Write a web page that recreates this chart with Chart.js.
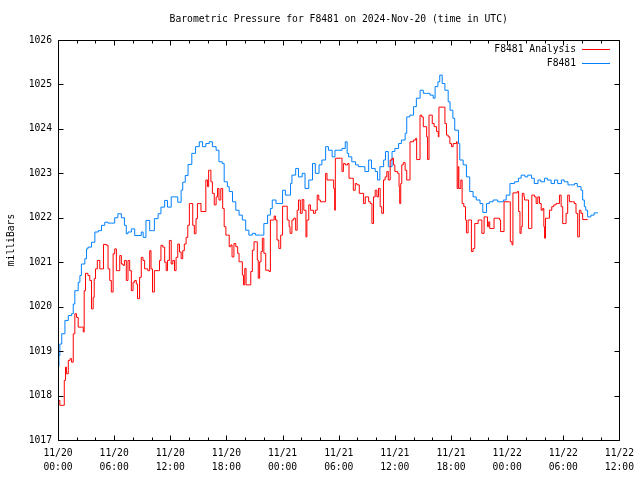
<!DOCTYPE html>
<html>
<head>
<meta charset="utf-8">
<script src="https://cdn.jsdelivr.net/npm/chart.js@4"></script>
<style>
  html, body { margin: 0; padding: 0; background: #fff; }
  #wrap { width: 640px; height: 480px; }
</style>
</head>
<body>
<div id="wrap"><canvas id="pressureChart" width="640" height="480"></canvas></div>
<script>
// hours since 11/20 00:00 UTC, pressure in mb
var analysisHours = [
    0.0, 0.2, 0.57, 0.67, 0.8, 0.9, 1.1, 1.28, 1.45, 1.63, 1.8, 1.98, 2.16, 2.5, 2.7, 2.8, 2.94, 3.2, 3.4, 3.58,
    3.76, 3.87, 4.01, 4.2, 4.47, 4.72, 4.86, 5.2, 5.35, 5.53, 5.7, 5.89, 6.06, 6.24, 6.4, 6.6, 6.77, 6.95, 7.1, 7.3,
    7.48, 7.66, 7.84, 8.02, 8.2, 8.37, 8.5, 8.72, 8.9, 9.08, 9.26, 9.6, 9.8, 9.94, 10.1, 10.3, 10.7, 10.85, 11.0, 11.2,
    11.4, 11.56, 11.7, 11.9, 12.1, 12.27, 12.45, 12.62, 12.8, 12.98, 13.16, 13.33, 13.5, 13.69, 13.87, 14.04, 14.2, 14.4, 14.57, 14.75,
    14.9, 15.1, 15.28, 15.6, 15.8, 15.98, 16.1, 16.2, 16.34, 16.5, 16.7, 16.9, 17.05, 17.2, 17.4, 17.6, 17.76, 17.94, 18.1, 18.3,
    18.47, 18.6, 18.8, 19.0, 19.2, 19.35, 19.53, 19.7, 19.82, 19.96, 20.1, 20.4, 20.6, 20.77, 20.95, 21.2, 21.3, 21.4, 21.55, 21.7,
    21.84, 22.0, 22.2, 22.55, 22.7, 22.9, 23.1, 23.25, 23.4, 23.6, 23.8, 24.0, 24.3, 24.5, 24.7, 24.8, 25.0, 25.2, 25.4, 25.56,
    25.7, 25.9, 26.1, 26.27, 26.5, 26.6, 26.8, 26.98, 27.3, 27.5, 27.7, 27.87, 28.05, 28.4, 28.6, 28.75, 29.3, 29.46, 29.57, 29.64,
    30.17, 30.35, 30.5, 30.7, 30.95, 31.1, 31.4, 31.56, 31.77, 31.95, 32.2, 32.48, 32.66, 32.84, 33.0, 33.2, 33.37, 33.55, 33.72, 33.9,
    34.08, 34.25, 34.43, 34.6, 34.79, 34.96, 35.14, 35.3, 35.5, 35.7, 35.85, 36.0, 36.3, 36.45, 36.52, 36.63, 36.74, 36.9, 37.1, 37.27,
    37.55, 37.62, 38.0, 38.23, 38.33, 38.58, 38.69, 38.87, 39.04, 39.22, 39.4, 39.5, 39.65, 39.86, 40.0, 40.2, 40.46, 40.64, 40.71, 41.17,
    41.35, 41.52, 41.7, 41.88, 42.06, 42.23, 42.59, 42.66, 42.77, 42.84, 43.05, 43.19, 43.37, 43.55, 43.65, 43.83, 44.08, 44.18, 44.36, 44.54,
    44.9, 45.07, 45.3, 45.54, 45.8, 45.9, 46.03, 46.14, 46.5, 46.6, 47.0, 47.2, 47.3, 47.56, 47.67, 48.27, 48.34, 48.52, 48.62, 49.08,
    49.23, 49.37, 49.5, 49.62, 49.8, 49.86, 50.2, 50.29, 50.57, 50.64, 50.93, 51.1, 51.28, 51.46, 51.64, 51.8, 51.92, 52.0, 52.1, 52.42,
    52.52, 52.77, 52.99, 53.23, 53.41, 53.59, 53.77, 53.94, 54.12, 54.3, 54.47, 54.65, 55.0, 55.18, 55.36, 55.54, 55.72, 55.89, 56.07, 56.6
];
var analysisValues = [
    1017.89, 1017.78, 1017.78, 1018.34, 1018.64, 1018.49, 1018.79, 1018.83, 1018.75, 1019.39, 1019.84, 1019.76, 1019.54, 1019.54, 1019.43, 1020.36, 1020.75, 1020.7, 1020.59, 1019.95,
    1020.21, 1020.63, 1020.85, 1021.04, 1020.85, 1020.85, 1021.4, 1021.38, 1020.85, 1020.59, 1020.33, 1021.19, 1021.3, 1020.81, 1020.81, 1021.15, 1020.96, 1020.93, 1021.04, 1020.59,
    1021.04, 1020.81, 1020.36, 1020.55, 1020.59, 1020.51, 1020.18, 1020.66, 1021.11, 1021.04, 1020.85, 1020.81, 1021.26, 1020.85, 1020.33, 1020.81, 1020.81, 1021.04, 1021.38, 1021.34,
    1021.0, 1020.81, 1021.04, 1021.49, 1020.96, 1021.04, 1020.81, 1021.11, 1021.41, 1021.23, 1021.08, 1021.26, 1021.41, 1021.56, 1021.83, 1022.32, 1022.32, 1021.83, 1021.64, 1021.98,
    1022.32, 1022.32, 1022.14, 1022.14, 1022.85, 1022.7, 1023.07, 1023.07, 1022.81, 1022.55, 1022.29, 1022.47, 1022.66, 1022.4, 1022.66, 1022.21, 1021.8, 1021.61, 1021.61, 1021.35,
    1021.39, 1021.12, 1021.42, 1021.35, 1021.2, 1021.01, 1021.01, 1020.71, 1020.49, 1020.86, 1020.49, 1020.49, 1020.79, 1021.27, 1021.46, 1021.46, 1021.05, 1020.64, 1021.01, 1021.24,
    1021.54, 1021.2, 1020.82, 1020.79, 1021.95, 1021.95, 1022.04, 1021.95, 1021.5, 1021.31, 1021.61, 1022.26, 1022.26, 1021.95, 1021.8, 1021.65, 1021.95, 1021.99, 1021.72, 1022.17,
    1022.4, 1022.1, 1022.41, 1022.17, 1021.57, 1021.95, 1022.29, 1022.17, 1022.1, 1022.17, 1022.51, 1022.4, 1022.36, 1022.36, 1023.0, 1022.85, 1022.85, 1022.66, 1022.17, 1023.34,
    1023.34, 1023.04, 1023.22, 1023.19, 1023.22, 1022.89, 1022.89, 1022.62, 1022.77, 1022.74, 1022.55, 1022.55, 1022.32, 1022.47, 1022.47, 1022.36, 1022.32, 1021.87, 1022.47, 1022.62,
    1022.47, 1022.66, 1022.25, 1022.1, 1022.85, 1022.92, 1023.04, 1022.85, 1023.3, 1023.34, 1023.19, 1023.04, 1023.0, 1022.7, 1022.32, 1022.77, 1023.19, 1023.24, 1023.07, 1022.85,
    1022.85, 1023.71, 1023.75, 1023.79, 1023.31, 1023.31, 1024.31, 1024.27, 1024.05, 1024.05, 1023.82, 1023.31, 1024.31, 1024.31, 1024.12, 1024.05, 1023.94, 1023.82, 1024.49, 1024.49,
    1024.12, 1023.86, 1023.82, 1023.67, 1023.6, 1023.67, 1023.71, 1022.66, 1023.15, 1022.66, 1022.85, 1022.32, 1022.25, 1021.95, 1021.66, 1021.95, 1021.95, 1021.24, 1021.31, 1021.87,
    1021.95, 1021.95, 1021.65, 1022.02, 1022.02, 1021.8, 1021.91, 1021.76, 1021.76, 1021.99, 1021.99, 1021.95, 1021.69, 1021.69, 1022.36, 1022.36, 1021.46, 1021.39, 1022.56, 1022.59,
    1022.14, 1021.65, 1021.8, 1022.55, 1022.47, 1022.4, 1022.4, 1021.76, 1021.76, 1022.51, 1022.47, 1022.32, 1022.47, 1022.32, 1022.17, 1022.21, 1021.8, 1021.54, 1021.99, 1021.99,
    1022.17, 1022.25, 1022.29, 1022.32, 1022.32, 1022.51, 1022.25, 1021.87, 1021.87, 1022.1, 1022.51, 1022.36, 1022.36, 1022.32, 1022.1, 1021.57, 1022.17, 1022.1, 1021.96, 1021.96
];

var stationHours = [
    0.0, 0.1, 0.2, 0.4, 0.74, 1.1, 1.45, 1.63, 1.8, 2.16, 2.34, 2.5, 2.87, 3.05, 3.2, 3.58, 3.94, 4.3, 4.65, 5.0,
    5.35, 5.7, 6.06, 6.4, 6.77, 7.1, 7.3, 7.48, 7.84, 8.2, 8.55, 8.9, 9.1, 9.4, 9.8, 10.1, 10.3, 10.7, 11.0, 11.4,
    11.7, 12.1, 12.45, 12.8, 13.16, 13.33, 13.6, 13.9, 14.3, 14.7, 15.1, 15.45, 15.8, 16.16, 16.5, 16.9, 17.2, 17.55, 17.76, 18.1,
    18.3, 18.65, 19.0, 19.35, 19.7, 20.06, 20.4, 20.77, 21.1, 21.66, 22.0, 22.4, 22.7, 22.9, 23.3, 23.6, 24.0, 24.3, 24.7, 24.85,
    25.0, 25.4, 25.7, 26.1, 26.4, 26.8, 27.2, 27.5, 27.9, 28.2, 28.6, 28.9, 29.3, 29.6, 30.0, 30.35, 30.7, 30.9, 31.06, 31.4,
    31.8, 32.1, 32.5, 32.8, 33.2, 33.5, 33.9, 34.15, 34.4, 34.8, 35.0, 35.3, 35.7, 36.0, 36.4, 36.7, 37.1, 37.27, 37.6, 38.0,
    38.3, 38.7, 39.04, 39.4, 39.75, 40.1, 40.3, 40.6, 40.8, 41.06, 41.35, 41.7, 41.9, 42.2, 42.4, 42.8, 42.94, 43.3, 43.65, 44.0,
    44.36, 44.7, 45.1, 45.4, 45.8, 46.1, 46.5, 47.0, 47.6, 47.9, 48.3, 48.8, 49.2, 49.5, 49.9, 50.2, 50.6, 50.9, 51.3, 51.6,
    52.0, 52.3, 52.7, 53.06, 53.4, 53.8, 54.1, 54.5, 54.8, 55.2, 55.5, 55.9, 56.07, 56.25, 56.4, 56.6, 56.95, 57.3, 57.7
];
var stationValues = [
    1018.65, 1018.9, 1019.16, 1019.39, 1019.69, 1019.8, 1019.84, 1020.06, 1020.36, 1020.55, 1020.7, 1020.96, 1021.08, 1021.3, 1021.34, 1021.45, 1021.68, 1021.71, 1021.83, 1021.9,
    1021.88, 1021.88, 1022.0, 1022.09, 1022.0, 1021.83, 1021.64, 1021.68, 1021.75, 1021.6, 1021.6, 1021.68, 1021.56, 1021.94, 1021.71, 1021.71, 1021.98, 1022.09, 1022.24, 1022.39,
    1022.24, 1022.47, 1022.47, 1022.35, 1022.62, 1022.8, 1022.95, 1023.2, 1023.45, 1023.6, 1023.71, 1023.6, 1023.67, 1023.71, 1023.6, 1023.52, 1023.26, 1023.22, 1022.81, 1022.7,
    1022.59, 1022.36, 1022.17, 1022.06, 1021.95, 1021.72, 1021.61, 1021.65, 1021.61, 1021.61, 1021.87, 1022.06, 1022.21, 1022.4, 1022.32, 1022.32, 1022.62, 1022.51, 1022.51, 1022.77,
    1022.96, 1023.11, 1022.92, 1023.0, 1022.66, 1022.85, 1023.22, 1023.0, 1023.19, 1023.3, 1023.6, 1023.52, 1023.37, 1023.52, 1023.52, 1023.56, 1023.71, 1023.45, 1023.37, 1023.26,
    1023.19, 1023.15, 1023.15, 1023.04, 1023.3, 1023.11, 1023.04, 1022.85, 1023.15, 1023.3, 1023.49, 1023.15, 1023.49, 1023.56, 1023.67, 1023.75, 1023.9, 1024.27, 1024.31, 1024.5,
    1024.69, 1024.87, 1024.8, 1024.8, 1024.76, 1024.69, 1024.95, 1025.06, 1025.21, 1025.02, 1024.87, 1024.61, 1024.42, 1024.24, 1023.97, 1023.67, 1023.3, 1023.19, 1022.92, 1022.59,
    1022.47, 1022.4, 1022.32, 1022.12, 1022.32, 1022.36, 1022.4, 1022.36, 1022.4, 1022.51, 1022.77, 1022.81, 1022.89, 1022.96, 1022.92, 1022.96, 1022.89, 1022.77, 1022.85, 1022.81,
    1022.89, 1022.85, 1022.77, 1022.85, 1022.77, 1022.85, 1022.81, 1022.74, 1022.74, 1022.77, 1022.7, 1022.62, 1022.4, 1022.25, 1022.17, 1022.02, 1022.06, 1022.11, 1022.11
];

var seriesNames = ['F8481 Analysis', 'F8481'];
var seriesColors = ['#ff0000', '#0080ff'];
var xTickLabels = [
    ['11/20', '00:00'], ['11/20', '06:00'], ['11/20', '12:00'], ['11/20', '18:00'],
    ['11/21', '00:00'], ['11/21', '06:00'], ['11/21', '12:00'], ['11/21', '18:00'],
    ['11/22', '00:00'], ['11/22', '06:00'], ['11/22', '12:00']
];
var titleText = 'Barometric Pressure for F8481 on 2024-Nov-20 (time in UTC)';
var yTitle = 'milliBars';

(function () {
    'use strict';

    var FONT = "'DejaVu Sans Mono', 'Liberation Mono', monospace";
    var FONT_SIZE = 9.7;

    function toPoints(xs, ys) {
        return xs.map(function (h, i) { return { x: h, y: ys[i] }; });
    }

    // gnuplot-style frame, inward ticks, title and legend
    var gnuplotDecor = {
        id: 'gnuplotDecor',
        afterDraw: function (chart) {
            var ctx = chart.ctx;
            var a = chart.chartArea;
            var xs = chart.scales.x;
            var ys = chart.scales.y;
            var L = Math.round(a.left) + 0.5, R = Math.round(a.right) + 0.5;
            var T = Math.round(a.top) + 0.5, B = Math.round(a.bottom) + 0.5;

            ctx.save();
            ctx.strokeStyle = '#000';
            ctx.lineWidth = 1;
            ctx.beginPath();
            ctx.rect(L, T, R - L, B - T);

            for (var v = 1017; v <= 1026; v++) {
                var py = Math.round(ys.getPixelForValue(v)) + 0.5;
                ctx.moveTo(L, py); ctx.lineTo(L + 5, py);
                ctx.moveTo(R, py); ctx.lineTo(R - 5, py);
            }
            for (var h = 0; h <= 60; h += 2) {
                var px = Math.round(xs.getPixelForValue(h)) + 0.5;
                var len = (h % 6 === 0) ? 5 : 3;
                ctx.moveTo(px, B); ctx.lineTo(px, B - len);
                ctx.moveTo(px, T); ctx.lineTo(px, T + len);
            }
            ctx.stroke();

            ctx.fillStyle = '#000';
            ctx.font = FONT_SIZE + 'px ' + FONT;
            ctx.textBaseline = 'middle';
            ctx.textAlign = 'center';
            ctx.fillText(titleText, (a.left + a.right) / 2, 19);

            ctx.textAlign = 'right';
            for (var i = 0; i < seriesNames.length; i++) {
                var ly = 49 + i * 14;
                ctx.fillStyle = '#000';
                ctx.fillText(seriesNames[i], 576, ly);
                ctx.strokeStyle = seriesColors[i];
                ctx.beginPath();
                ctx.moveTo(582, ly + 0.5);
                ctx.lineTo(610, ly + 0.5);
                ctx.stroke();
            }
            ctx.restore();
        }
    };

    var ctx = document.getElementById('pressureChart');
    new Chart(ctx, {
        type: 'line',
        data: {
            datasets: [
                { label: seriesNames[0], data: toPoints(analysisHours, analysisValues), borderColor: seriesColors[0], borderWidth: 1, pointRadius: 0, stepped: true, fill: false },
                { label: seriesNames[1], data: toPoints(stationHours, stationValues), borderColor: seriesColors[1], borderWidth: 1, pointRadius: 0, stepped: true, fill: false }
            ]
        },
        options: {
            responsive: false,
            animation: false,
            layout: { padding: { top: 40, right: 18, left: 0, bottom: 0 } },
            plugins: {
                legend: { display: false },
                title: { display: false },
                tooltip: { enabled: false }
            },
            scales: {
                x: {
                    type: 'linear',
                    min: 0, max: 60,
                    grid: { display: false, drawTicks: false },
                    border: { display: false },
                    ticks: {
                        stepSize: 6,
                        autoSkip: false,
                        maxRotation: 0,
                        padding: 6,
                        color: '#000',
                        font: { family: FONT, size: FONT_SIZE, lineHeight: 1.45 },
                        callback: function (val) { return xTickLabels[Math.round(val / 6)]; }
                    },
                    afterFit: function (scale) { scale.height = 40; }
                },
                y: {
                    min: 1017, max: 1026,
                    grid: { display: false, drawTicks: false },
                    border: { display: false },
                    ticks: {
                        stepSize: 1,
                        padding: 6,
                        color: '#000',
                        font: { family: FONT, size: FONT_SIZE },
                        callback: function (val) { return String(val); }
                    },
                    title: {
                        display: true,
                        text: yTitle,
                        color: '#000',
                        padding: 6,
                        font: { family: FONT, size: FONT_SIZE }
                    },
                    afterFit: function (scale) { scale.width = 58; }
                }
            }
        },
        plugins: [gnuplotDecor]
    });
})();
</script>
</body>
</html>
